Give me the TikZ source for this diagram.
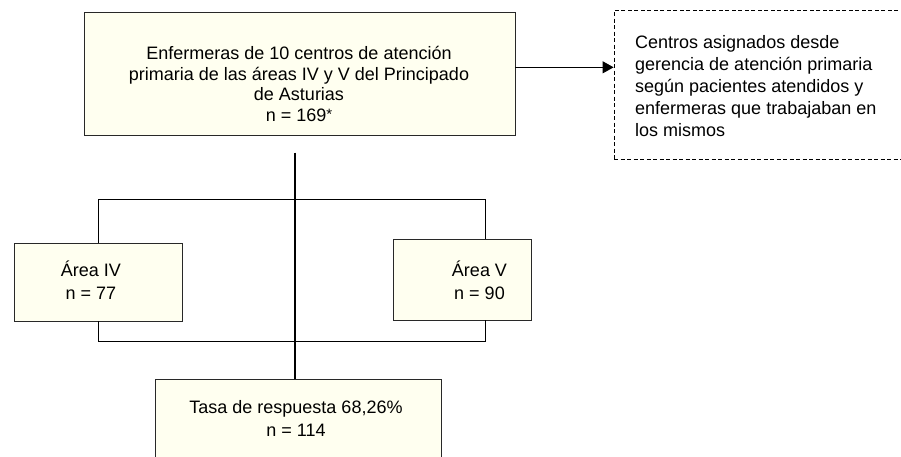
\documentclass[tikz,border=0pt]{standalone}
\usepackage{fontspec}
\setmainfont{Liberation Sans}
\usetikzlibrary{arrows.meta,calc}
\definecolor{boxfill}{RGB}{255,255,240}
\definecolor{edge}{RGB}{40,40,40}
\tikzset{
  box/.style={draw=edge, line width=0.85pt, fill=boxfill, rectangle, inner sep=0pt},
  dbox/.style={draw=black, line width=0.8pt, dash pattern=on 4pt off 2.5pt, rectangle, inner sep=0pt},
  txt/.style={inner sep=0pt, font=\fontsize{18}{20.6}\selectfont},
  conn/.style={draw=black, line width=0.85pt},
  trunk/.style={draw=black, line width=2.6pt},
}
\begin{document}
\begin{tikzpicture}[x=1pt,y=-1pt]
\useasboundingbox (0,0) rectangle (901,456);
\clip (0,0) rectangle (901,456);
% boxes
\node[box, minimum width=431pt, minimum height=123pt] (top) at (299.5,73.5) {};
\node[dbox, minimum width=295pt, minimum height=149pt] (dash) at (761.5,84.5) {};
\node[box, minimum width=168pt, minimum height=78pt] (lbox) at (98,282) {};
\node[box, minimum width=138pt, minimum height=81pt] (rbox) at (462,279.5) {};
\node[box, minimum width=286pt, minimum height=90pt] (bot) at (298,424) {};
% texts
\node[txt, align=center] (ttop) at (299,84) {Enfermeras de 10 centros de atención\\primaria de las áreas IV y V del Principado\\de Asturias\\n = 169{\fontsize{15}{15}\selectfont\raisebox{1.5pt}{*}}};
\node[txt, align=left, anchor=west, font=\fontsize{18}{22}\selectfont] (tdash) at (635,86) {Centros asignados desde\\gerencia de atención primaria\\según pacientes atendidos y\\enfermeras que trabajaban en\\los mismos};
\node[txt, align=center, font=\fontsize{18}{23}\selectfont] (tl) at (91,280) {Área IV\\n = 77};
\node[txt, align=center, font=\fontsize{18}{23}\selectfont] (tr) at (479.5,280) {Área V\\n = 90};
\node[txt, align=center, font=\fontsize{18}{23}\selectfont] (tb) at (296,418.5) {Tasa de respuesta 68,26\%\\n = 114};
% coordinates
\coordinate (a1) at ($(top.north east)!0.45!(top.south east)$);
\coordinate (vt) at (295,152.5);
\coordinate (h1) at (98,199);
\coordinate (h2) at (485,199);
\coordinate (h3) at (98,341);
\coordinate (h4) at (485,341);
% connectors
\draw[conn, -{Triangle[length=11pt,width=12pt]}] (a1) -- (a1 -| dash.west);
\draw[conn] (lbox.north) -- (h1) -- (h2) -- (h2 |- rbox.north);
\draw[conn] (lbox.south) -- (h3) -- (h4) -- (h4 |- rbox.south);
\draw[trunk] (vt) -- (vt |- bot.north);
\end{tikzpicture}
\end{document}
